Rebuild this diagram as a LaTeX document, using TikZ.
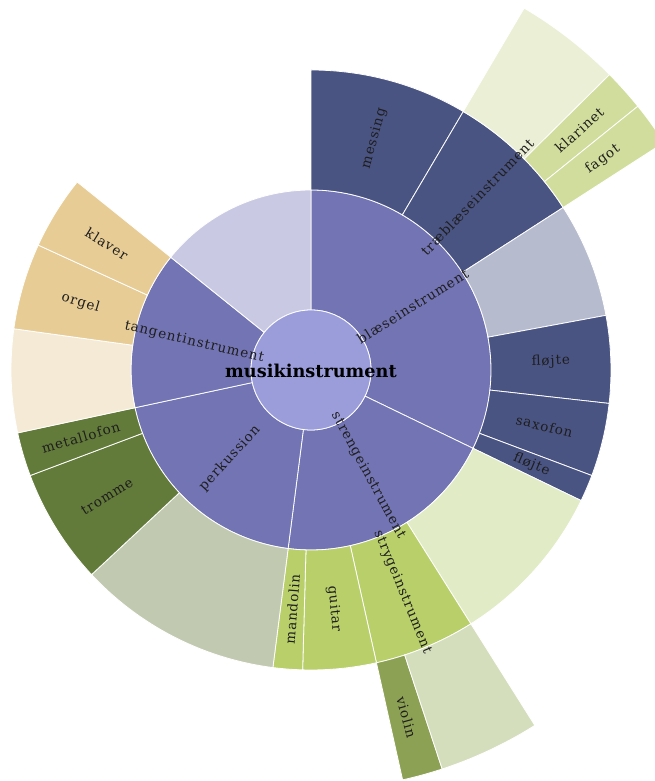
\documentclass[tikz,border=0pt]{standalone}
\usepackage{fontspec}
\setmainfont{DejaVu Serif}
\newfontfamily\labfont[LetterSpace=6.6]{DejaVu Serif}
\definecolor{cCenter}{HTML}{9B9DDB}
\definecolor{cRing}{HTML}{7374B3}
\definecolor{cLav}{HTML}{C9C9E3}
\definecolor{cNavy}{HTML}{4A5482}
\definecolor{cGrayBlue}{HTML}{B6BBCE}
\definecolor{cLightGreen}{HTML}{E1EBC6}
\definecolor{cGreen}{HTML}{B8CF6A}
\definecolor{cOlive}{HTML}{8CA153}
\definecolor{cPale}{HTML}{D4DDBC}
\definecolor{cPaleTop}{HTML}{EAEFD6}
\definecolor{cKlar}{HTML}{D1DD9C}
\definecolor{cTan}{HTML}{E7CC95}
\definecolor{cBeige}{HTML}{F5EAD6}
\definecolor{cDark}{HTML}{637B3A}
\definecolor{cGrayGreen}{HTML}{C2C9B1}
\definecolor{cText}{HTML}{1E1E1E}
\newcommand\sunsector[5]{%
  \fill[#5, draw=white, line width=0.8pt] (#1:#3) arc[start angle=#1, end angle=#2, radius=#3]
    -- (#2:#4) arc[start angle=#2, end angle=#1, radius=#4] -- cycle;}
\begin{document}
\begin{tikzpicture}[x=1pt, y=1pt,
  lab/.style={font=\labfont\fontsize{13.5}{13.5}\selectfont, text=cText, inner sep=0pt},
  rootlab/.style={font=\bfseries\fontsize{17.7}{17.7}\selectfont, text=black, inner sep=0pt}]
\useasboundingbox (0,0) rectangle (655,781);
\clip (0,0) rectangle (655,781);
\begin{scope}[shift={(311,411)}]
% ring 1
\sunsector{90}{-25.8}{60}{180}{cRing}
\sunsector{-25.8}{-97.3}{60}{180}{cRing}
\sunsector{-97.3}{-167.9}{60}{180}{cRing}
\sunsector{192.1}{141.2}{60}{180}{cRing}
\sunsector{141.2}{90}{60}{180}{cLav}
% ring 2
\sunsector{90}{59.5}{180}{300}{cNavy}
\sunsector{59.5}{32.8}{180}{300}{cNavy}
\sunsector{32.8}{10.5}{180}{300}{cGrayBlue}
\sunsector{10.5}{-6.4}{180}{300}{cNavy}
\sunsector{-6.4}{-20.6}{180}{300}{cNavy}
\sunsector{-20.6}{-25.8}{180}{300}{cNavy}
\sunsector{-25.8}{-57.8}{180}{300}{cLightGreen}
\sunsector{-57.8}{-77.4}{180}{300}{cGreen}
\sunsector{-77.4}{-91.6}{180}{300}{cGreen}
\sunsector{-91.6}{-97.3}{180}{300}{cGreen}
\sunsector{-97.3}{-137}{180}{300}{cGrayGreen}
\sunsector{223}{200.6}{180}{300}{cDark}
\sunsector{200.6}{192.1}{180}{300}{cDark}
\sunsector{192.1}{172.1}{180}{300}{cBeige}
\sunsector{172.1}{155.4}{180}{300}{cTan}
\sunsector{155.4}{141.2}{180}{300}{cTan}
% ring 3
\sunsector{59.5}{44.7}{300}{420}{cPaleTop}
\sunsector{44.7}{38.9}{300}{420}{cKlar}
\sunsector{38.9}{32.8}{300}{420}{cKlar}
\sunsector{-77.4}{-71.8}{300}{420}{cOlive}
\sunsector{-71.8}{-57.8}{300}{420}{cPale}
% center
\fill[cCenter, draw=white, line width=0.8pt] (0,0) circle[radius=60];
% labels
\node[rootlab] (root) at (0,-1) {musikinstrument};
\node[lab, rotate=32.1] (blaese) at (32.1:120) {blæseinstrument};
\node[lab, rotate=-61.55] (strenge) at (-61.55:120) {strengeinstrument};
\node[lab, rotate=47.4] (perk) at (-132.6:120) {perkussion};
\node[lab, rotate=-13.35] (tangent) at (166.65:120) {tangentinstrument};
\node[lab, rotate=74.75] (messing) at (74.75:240) {messing};
\node[lab, rotate=46.15] (trae) at (46.15:240) {træblæseinstrument};
\node[lab, rotate=2.05] (floejteA) at (2.05:240) {fløjte};
\node[lab, rotate=-13.5] (saxofon) at (-13.5:240) {saxofon};
\node[lab, rotate=-23.2] (floejteB) at (-23.2:240) {fløjte};
\node[lab, rotate=-67.6] (stryge) at (-67.6:240) {strygeinstrument};
\node[lab, rotate=-84.5] (guitar) at (-84.5:240) {guitar};
\node[lab, rotate=85.55] (mandolin) at (-94.45:240) {mandolin};
\node[lab, rotate=31.8] (tromme) at (211.8:240) {tromme};
\node[lab, rotate=16.35] (metallofon) at (196.35:240) {metallofon};
\node[lab, rotate=-16.25] (orgel) at (163.75:240) {orgel};
\node[lab, rotate=-31.7] (klaver) at (148.3:240) {klaver};
\node[lab, rotate=41.8] (klarinet) at (41.8:360) {klarinet};
\node[lab, rotate=35.85] (fagot) at (35.85:360) {fagot};
\node[lab, rotate=-74.6] (violin) at (-74.6:360) {violin};
\end{scope}
\end{tikzpicture}
\end{document}
